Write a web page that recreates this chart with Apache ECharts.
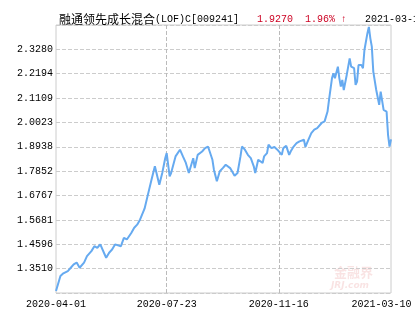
<!DOCTYPE html>
<html>
<head>
<meta charset="utf-8">
<script src="https://cdn.jsdelivr.net/npm/echarts@6/dist/echarts.min.js"></script>
<style>
  html, body { margin: 0; padding: 0; background: #fff; }
  #navChart { width: 415px; height: 330px; }
</style>
</head>
<body>
<div id="navChart"></div>
<script>
// 融通领先成长混合(LOF)C 单位净值走势
var fundName = '融通领先成长混合';
var fundCode = '(LOF)C[009241]';
var lastNav = '1.9270';
var lastChange = '1.96% ↑';
var lastDate = '2021-03-10';

var yTickLabels = ['1.3510', '1.4596', '1.5681', '1.6767', '1.7852', '1.8938', '2.0023', '2.1109', '2.2194', '2.3280'];
var xTickLabels = ['2020-04-01', '2020-07-23', '2020-11-16', '2021-03-10'];
var holidays = ['2020-04-06', '2020-05-01', '2020-05-04', '2020-05-05', '2020-06-25', '2020-06-26',
  '2020-10-01', '2020-10-02', '2020-10-05', '2020-10-06', '2020-10-07', '2020-10-08',
  '2021-01-01', '2021-02-11', '2021-02-12', '2021-02-15', '2021-02-16', '2021-02-17'];

// 交易日序号 / 净值
var sampleDay = [0, 2, 3, 5, 8, 10, 12, 14, 16, 19, 21, 24, 26, 28, 30, 33, 34, 36, 38, 40,
  44, 46, 48, 51, 53, 55, 57, 60, 62, 65, 67, 68, 70, 72, 74, 75, 77, 78, 81, 84,
  86, 88, 90, 93, 94, 96, 99, 101, 103, 106, 107, 109, 111, 113, 115, 118, 119, 121, 123, 125,
  126, 128, 130, 132, 134, 135, 137, 138, 140, 141, 143, 144, 146, 148, 150, 151, 153, 154, 156, 158,
  159, 161, 163, 165, 168, 169, 171, 173, 175, 177, 178, 180, 182, 184, 185, 187, 188, 189, 191, 192,
  193, 194, 195, 197, 198, 199, 200, 202, 203, 204, 205, 206, 207, 208, 209, 211, 212, 213, 214, 215,
  216, 217, 218, 219, 220, 221, 222, 224, 225, 226, 227];
var sampleNav = [1.251, 1.296, 1.318, 1.330, 1.340, 1.355, 1.370, 1.378, 1.355, 1.378, 1.407, 1.429, 1.451, 1.444, 1.459, 1.414, 1.399, 1.422, 1.436, 1.459,
  1.451, 1.488, 1.481, 1.510, 1.533, 1.547, 1.570, 1.618, 1.673, 1.755, 1.807, 1.814, 1.725, 1.777, 1.843, 1.866, 1.762, 1.777, 1.851, 1.881,
  1.851, 1.822, 1.777, 1.843, 1.799, 1.858, 1.873, 1.888, 1.895, 1.836, 1.792, 1.740, 1.785, 1.799, 1.814, 1.799, 1.807, 1.765, 1.777, 1.851,
  1.895, 1.881, 1.858, 1.843, 1.807, 1.777, 1.836, 1.836, 1.822, 1.851, 1.866, 1.903, 1.888, 1.893, 1.881, 1.873, 1.858, 1.888, 1.898, 1.858,
  1.873, 1.895, 1.910, 1.918, 1.925, 1.893, 1.925, 1.955, 1.970, 1.977, 1.977, 2.000, 2.007, 2.051, 2.103, 2.199, 2.221, 2.199, 2.251, 2.199,
  2.162, 2.192, 2.147, 2.214, 2.251, 2.288, 2.251, 2.244, 2.170, 2.184, 2.258, 2.266, 2.258, 2.244, 2.325, 2.399, 2.428, 2.377, 2.340, 2.229,
  2.221, 2.147, 2.140, 2.081, 2.140, 2.147, 2.058, 2.051, 1.947, 1.895, 1.927];

function tradingDays(start, end) {
  var out = [];
  var d = new Date(start + 'T00:00:00Z');
  var e = new Date(end + 'T00:00:00Z');
  while (d <= e) {
    var s = d.toISOString().slice(0, 10);
    var wd = d.getUTCDay();
    if (wd !== 0 && wd !== 6 && holidays.indexOf(s) < 0) out.push(s);
    d.setUTCDate(d.getUTCDate() + 1);
  }
  return out;
}

var tradeDates = tradingDays(xTickLabels[0], xTickLabels[xTickLabels.length - 1]);
var yLow = parseFloat(yTickLabels[0]);
var yHigh = parseFloat(yTickLabels[yTickLabels.length - 1]);
var yStep = (yHigh - yLow) / (yTickLabels.length - 1);

var monoFont = 'Liberation Mono';
var cjkFont = 'Noto Sans CJK SC';

var chart = echarts.init(document.getElementById('navChart'));
chart.setOption({
  animation: false,
  title: {
    left: 54,
    top: 6,
    text: '{c|' + fundName + '}{a|' + fundCode + '   }{r|' + lastNav + '  ' + lastChange + '}{a|   ' + lastDate + '}',
    textStyle: {
      fontWeight: 'normal',
      rich: {
        c: { fontFamily: cjkFont, fontSize: 12, fontWeight: 'normal', color: '#000', lineHeight: 16 },
        a: { fontFamily: monoFont, fontSize: 10, fontWeight: 'normal', color: '#000', lineHeight: 16 },
        r: { fontFamily: monoFont, fontSize: 10, fontWeight: 'normal', color: '#cc0022', lineHeight: 16 }
      }
    }
  },
  grid: {
    left: 56,
    right: 24,
    top: 25,
    bottom: 37,
    show: true,
    borderColor: '#cccccc',
    borderWidth: 1
  },
  xAxis: {
    type: 'category',
    data: tradeDates,
    boundaryGap: false,
    axisLine: { show: false },
    axisTick: { show: false },
    axisLabel: {
      interval: function (i, v) { return xTickLabels.indexOf(v) >= 0; },
      formatter: function (v) {
        return v === xTickLabels[xTickLabels.length - 1] ? '{end|' + v + '}' : v;
      },
      margin: 6,
      fontFamily: monoFont,
      fontSize: 10,
      color: '#000',
      rich: {
        end: { fontFamily: monoFont, fontSize: 10, color: '#000', padding: [0, 19, 0, 0] }
      }
    },
    splitLine: {
      show: true,
      interval: function (i, v) { return v === xTickLabels[1] || v === xTickLabels[2]; },
      lineStyle: { type: 'dashed', color: '#bbbbbb', width: 1 }
    }
  },
  yAxis: [
    {
      type: 'value',
      show: false,
      min: yLow - yStep,
      max: yHigh + yStep
    },
    {
      type: 'value',
      position: 'left',
      min: 0,
      max: yTickLabels.length + 1,
      interval: 1,
      axisLine: { show: false },
      axisTick: { show: false },
      axisLabel: {
        margin: 3,
        fontFamily: monoFont,
        fontSize: 10,
        color: '#000',
        formatter: function (v) { return yTickLabels[v - 1] || ''; }
      },
      splitLine: { lineStyle: { type: 'dashed', color: '#cccccc', width: 1 } }
    }
  ],
  graphic: [
    {
      type: 'text', left: 334, top: 266,
      style: { text: '金融界', fill: 'rgba(210,40,40,0.13)', font: 'bold 13px "Noto Sans CJK SC"' }
    },
    {
      type: 'text', left: 331, top: 281,
      style: { text: 'JRJ.com', fill: 'rgba(210,40,40,0.13)', font: 'italic bold 9px "DejaVu Sans"' }
    }
  ],
  series: [
    {
      type: 'line',
      yAxisIndex: 0,
      showSymbol: false,
      lineStyle: { color: '#66aaf0', width: 2 },
      data: sampleDay.map(function (d, i) { return [d, sampleNav[i]]; })
    }
  ]
});
</script>
</body>
</html>
